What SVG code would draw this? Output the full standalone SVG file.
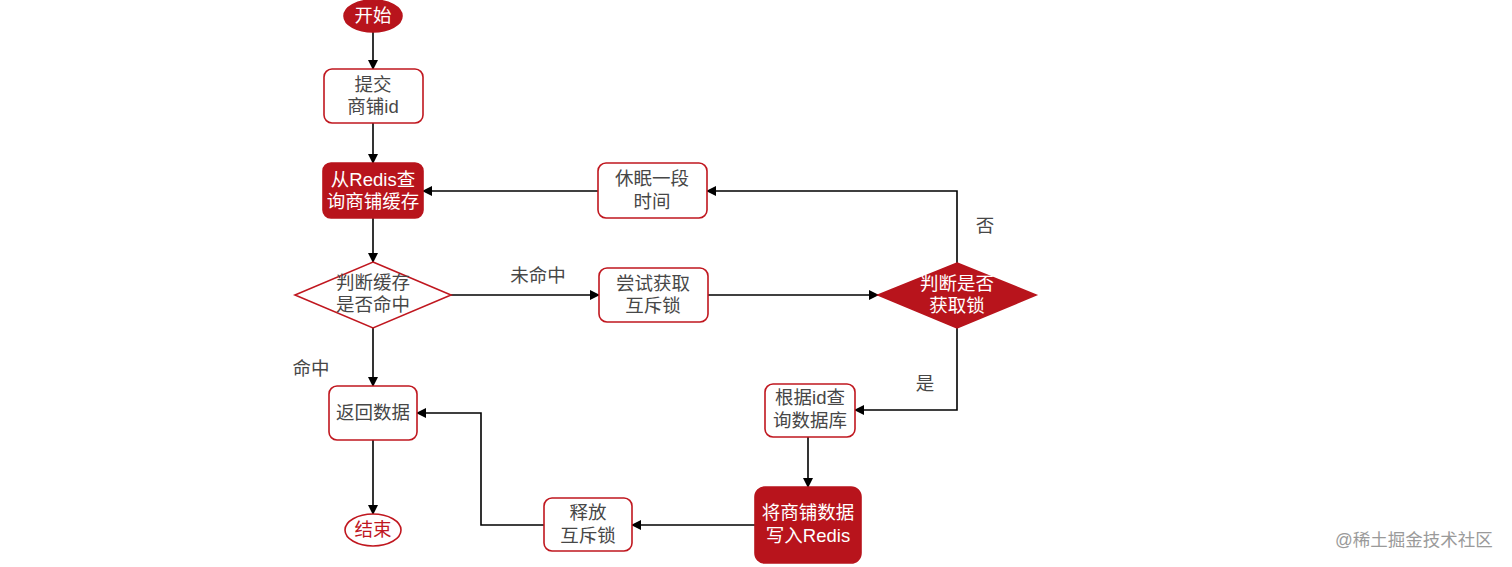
<svg xmlns="http://www.w3.org/2000/svg" width="1512" height="567" viewBox="0 0 1512 567">
<defs>
<marker id="ah" markerWidth="10" markerHeight="10" refX="9" refY="5" orient="auto" markerUnits="userSpaceOnUse">
<path d="M0,0 L10,5 L0,10 Z" fill="#000"/>
</marker>
<style>
text{font-family:"Liberation Sans","Noto Sans CJK SC",sans-serif;font-size:18.5px;text-anchor:middle}
.box{fill:#fff;stroke:#c0171f;stroke-width:1.6}
.fill{fill:#b8141c;stroke:#b8141c;stroke-width:1.6}
.t{fill:#474747}
.w{fill:#fff}
.r{fill:#c0171f}
.c{fill:none;stroke:#000;stroke-width:1.6;marker-end:url(#ah)}
</style>
</defs>
<rect width="1512" height="567" fill="#fff"/>
<g id="connectors">
<path class="c" d="M373,32 V69"/>
<path class="c" d="M373,123 V163"/>
<path class="c" d="M373,218 V262"/>
<path class="c" d="M373,328 V386"/>
<path class="c" d="M373,440 V514"/>
<path class="c" d="M451,295 H599"/>
<path class="c" d="M708,295 H878"/>
<path class="c" d="M957,263 V191 H707"/>
<path class="c" d="M598,191 H423"/>
<path class="c" d="M957,328 V410 H855"/>
<path class="c" d="M808,437 V487"/>
<path class="c" d="M755,525 H632"/>
<path class="c" d="M544,525 H481 V413 H417"/>
<text class="t" x="538" y="282">未命中</text>
<text class="t" x="311" y="375">命中</text>
<text class="t" x="985" y="232">否</text>
<text class="t" x="925" y="390">是</text>
</g>
<g id="start"><ellipse class="fill" cx="373" cy="16" rx="29" ry="16"/><text class="w" x="373" y="22">开始</text></g>
<g id="submit"><rect class="box" x="324" y="69" width="99" height="54" rx="8"/><text class="t" x="373" y="91">提交</text><text class="t" x="373" y="113">商铺id</text></g>
<g id="queryRedis"><rect class="fill" x="323" y="163" width="100" height="55" rx="8"/><text class="w" x="373" y="186">从Redis查</text><text class="w" x="373" y="208">询商铺缓存</text></g>
<g id="hitCheck"><polygon class="box" points="373,262 451,295 373,328 295,295"/><text class="t" x="373" y="289">判断缓存</text><text class="t" x="373" y="311">是否命中</text></g>
<g id="returnData"><rect class="box" x="329" y="386" width="88" height="54" rx="8"/><text class="t" x="373" y="419">返回数据</text></g>
<g id="end"><ellipse cx="373" cy="530" rx="28" ry="16" fill="#fff" stroke="#c0171f" stroke-width="1.6"/><text class="r" x="373" y="536">结束</text></g>
<g id="tryLock"><rect class="box" x="599" y="268" width="109" height="54" rx="8"/><text class="t" x="653" y="290">尝试获取</text><text class="t" x="653" y="312">互斥锁</text></g>
<g id="sleep"><rect class="box" x="598" y="163" width="109" height="55" rx="8"/><text class="t" x="652" y="185">休眠一段</text><text class="t" x="652" y="208">时间</text></g>
<g id="lockCheck"><polygon class="fill" points="957,263 1036,295 957,328 878,295"/><text class="w" x="957" y="290">判断是否</text><text class="w" x="957" y="312">获取锁</text></g>
<g id="queryDb"><rect class="box" x="765" y="384" width="90" height="53" rx="8"/><text class="t" x="810" y="404">根据id查</text><text class="t" x="810" y="427">询数据库</text></g>
<g id="writeRedis"><rect class="fill" x="755" y="487" width="106" height="76" rx="10"/><text class="w" x="808" y="519">将商铺数据</text><text class="w" x="808" y="542">写入Redis</text></g>
<g id="unlock"><rect class="box" x="544" y="498" width="88" height="53" rx="8"/><text class="t" x="588" y="519">释放</text><text class="t" x="588" y="542">互斥锁</text></g>
<text x="1414" y="546" style="font-size:17.5px;fill:#9a9a9a">@稀土掘金技术社区</text>
</svg>
